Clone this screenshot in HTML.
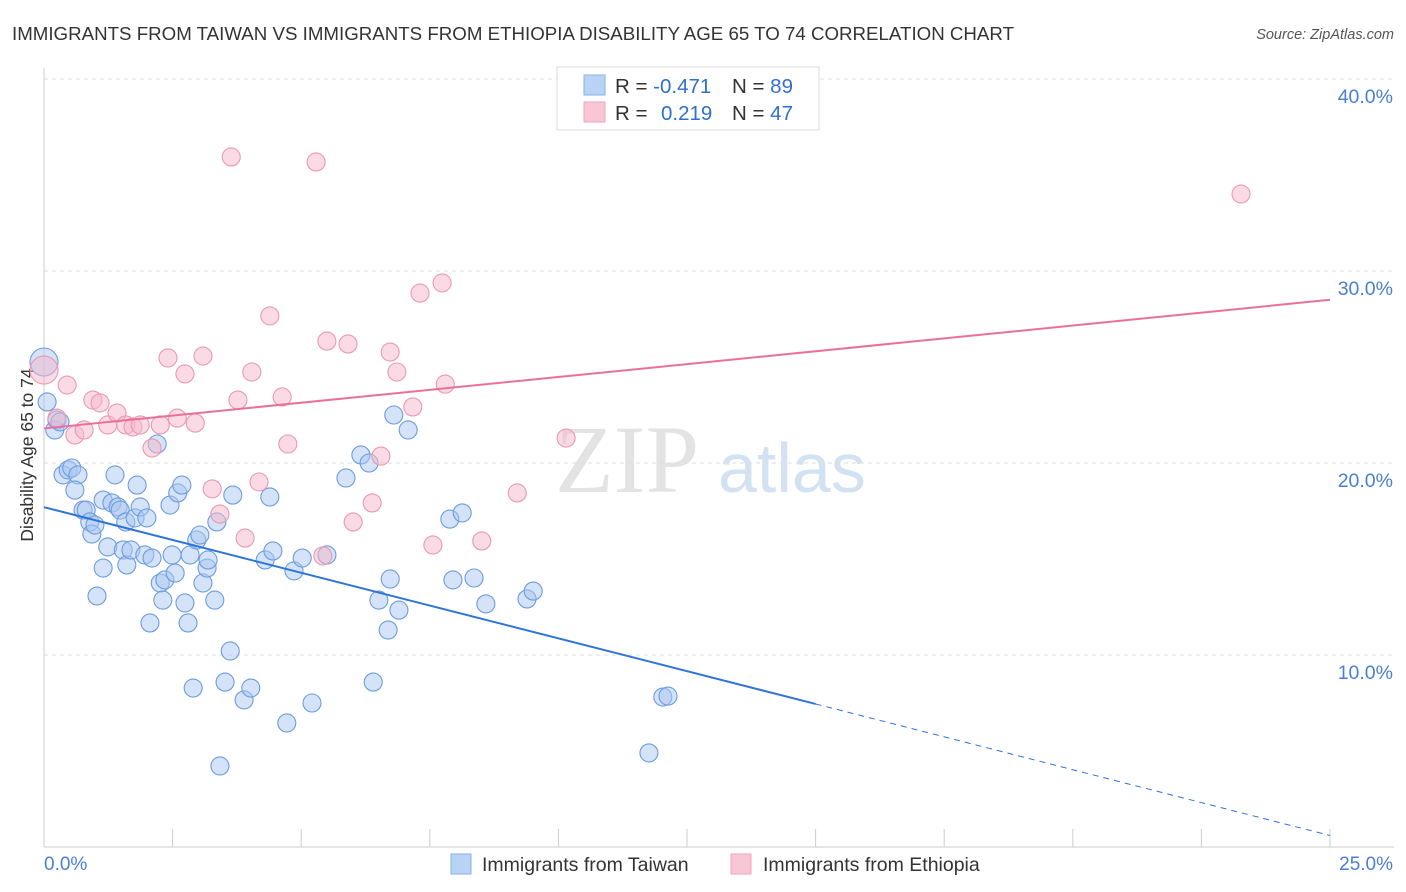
<!DOCTYPE html>
<html><head><meta charset="utf-8"><style>
body{margin:0;background:#fff;font-family:"Liberation Sans",sans-serif}
#wrap{position:relative;width:1406px;height:892px;overflow:hidden}
</style></head><body>
<div id="wrap">
<svg id="svg" width="1406" height="892" xmlns="http://www.w3.org/2000/svg">
<text x="12" y="40" font-size="18" fill="#333" textLength="1002" lengthAdjust="spacingAndGlyphs">IMMIGRANTS FROM TAIWAN VS IMMIGRANTS FROM ETHIOPIA DISABILITY AGE 65 TO 74 CORRELATION CHART</text>
<text x="1394" y="39" font-size="14.5" fill="#555" font-style="italic" text-anchor="end">Source: ZipAtlas.com</text>
<text x="33" y="455" font-size="17.5" fill="#333" text-anchor="middle" transform="rotate(-90 33 455)">Disability Age 65 to 74</text>
<g><text x="555" y="492" font-size="96" fill="#ddd" font-family="Liberation Serif,serif" opacity="0.8">ZIP</text><text x="718" y="492" font-size="70" fill="#c8dbf0" opacity="0.8">atlas</text></g>
<g id="grid"></g><g id="ticks"></g><g id="pts"></g><g id="lines"></g>
<g>
<rect x="557" y="67" width="262" height="63" fill="#fff" stroke="#ddd"/>
<rect x="584" y="75" width="21" height="20" fill="#b9d3f5" stroke="#8ab2e8"/>
<rect x="584" y="102" width="21" height="20" fill="#f9c6d5" stroke="#eea5bb"/>
<text x="615" y="93" font-size="20.5" fill="#333">R = <tspan fill="#2f6fd0">-0.471</tspan></text>
<text x="732" y="93" font-size="20.5" fill="#333">N = <tspan fill="#2f6fd0">89</tspan></text>
<text x="615" y="120" font-size="20.5" fill="#333">R = <tspan fill="#2f6fd0" x="661">0.219</tspan></text>
<text x="732" y="120" font-size="20.5" fill="#333">N = <tspan fill="#2f6fd0">47</tspan></text>
</g>
<g>
<rect x="451" y="854" width="20" height="20" fill="#b9d3f5" stroke="#8ab2e8"/>
<text x="482" y="871" font-size="19.5" fill="#333">Immigrants from Taiwan</text>
<rect x="731" y="854" width="20" height="20" fill="#f9c6d5" stroke="#eea5bb"/>
<text x="763" y="871" font-size="19.5" fill="#333">Immigrants from Ethiopia</text>
</g>
<text x="44" y="870" font-size="19" fill="#4a7fd6">0.0%</text>
<text x="1393" y="870" font-size="19" fill="#4a7fd6" text-anchor="end">25.0%</text>
</svg></div>
<script>
const yTicks=[10,20,30,40];
const yTickLabels=["10.0%","20.0%","30.0%","40.0%"];
const taiwanX=[0.00,0.06,0.21,0.25,0.31,0.37,0.47,0.54,0.66,0.60,0.76,0.82,0.89,0.93,0.99,1.03,1.15,1.15,1.24,1.32,1.38,1.44,1.48,1.54,1.59,1.61,1.69,1.77,1.81,1.87,1.96,2.00,2.10,2.06,2.20,2.26,2.31,2.35,2.45,2.49,2.55,2.60,2.68,2.74,2.80,2.84,2.90,2.97,3.03,3.09,3.17,3.19,3.32,3.36,3.42,3.52,3.62,3.67,3.89,4.02,4.30,4.39,4.45,4.72,4.86,5.02,5.21,5.50,5.87,6.16,6.32,6.40,6.51,6.69,6.73,6.80,6.90,7.08,7.89,7.95,8.13,8.36,8.59,9.39,9.51,11.76,12.03,12.13];
const taiwanY=[25.26,23.18,21.72,22.24,22.14,19.38,19.64,19.74,19.38,18.59,17.55,17.55,16.93,16.30,16.77,13.07,14.53,18.07,15.63,17.92,19.38,17.71,17.55,15.47,16.93,14.69,15.47,17.14,18.85,17.71,15.21,17.14,15.05,11.67,20.99,13.75,12.86,13.91,17.81,15.21,14.27,18.44,18.85,12.71,11.67,15.21,8.28,15.99,16.25,13.75,14.53,14.95,12.86,16.93,4.22,8.59,10.21,18.33,7.66,8.28,14.95,18.23,15.42,6.46,14.38,15.05,7.50,15.21,19.22,20.42,20.00,8.59,12.86,11.30,13.96,22.50,12.34,21.72,17.08,13.91,17.40,14.01,12.66,12.92,13.33,4.90,7.81,7.86];
const ethX=[0.00,0.25,0.45,0.60,0.78,0.95,1.09,1.24,1.42,1.59,1.73,1.87,2.10,2.26,2.41,2.59,2.74,2.94,3.09,3.27,3.42,3.64,3.77,3.91,4.04,4.18,4.39,4.63,4.74,5.29,5.42,5.50,5.91,6.01,6.38,6.55,6.73,6.86,7.17,7.31,7.56,7.74,7.80,8.51,9.20,10.15,23.27];
const ethY=[24.84,22.34,24.06,21.46,21.72,23.28,23.13,21.98,22.60,21.98,21.88,21.98,20.78,21.98,25.47,22.34,24.64,22.08,25.57,18.65,17.34,35.94,23.28,16.09,24.74,19.01,27.66,23.44,20.99,35.68,15.16,26.35,26.20,16.93,17.92,20.36,25.78,24.74,22.92,28.85,15.73,29.38,24.11,15.94,18.44,21.30,34.01];
const taiwanTrend=[[0,17.7],[15,7.45],[25,0.6]];
const ethTrend=[[0,21.8],[25,28.5]];
const X=v=>44+v*51.44, Y=v=>847-v*19.2;
const NS="http://www.w3.org/2000/svg";
function mk(t,a,p){const e=document.createElementNS(NS,t);for(const k in a)e.setAttribute(k,a[k]);p.appendChild(e);return e;}
const grid=document.getElementById('grid'),ticks=document.getElementById('ticks'),pts=document.getElementById('pts'),lines=document.getElementById('lines');
yTicks.forEach((t,i)=>{const l=mk('line',{x1:44,x2:1394,y1:Y(t),y2:Y(t),stroke:'#ddd','stroke-dasharray':'4,4'},grid);


const tx=mk('text',{x:1393,y:Y(t)+24,'font-size':19.5,fill:'#4a7fd6','text-anchor':'end'},ticks);tx.textContent=yTickLabels[i];

});
const ax=mk('line',{x1:44,x2:1394,y1:847,y2:847,stroke:'#ccc'},ticks);


const ay=mk('line',{x1:44,x2:44,y1:68,y2:847,stroke:'#ccc'},ticks);


for(let i=0;i<=10;i++){const t=mk('line',{x1:X(i*2.5),x2:X(i*2.5),y1:829,y2:847,stroke:'#ccc'},ticks);

}
function series(xs,ys,fill,stroke,name){xs.forEach((x,i)=>{const c=mk('circle',{cx:X(x),cy:Y(ys[i]),r:x===0?14:9,fill:fill,'fill-opacity':0.5,stroke:stroke,'stroke-width':1.1},pts);

});}
series(taiwanX,taiwanY,'#a9c8f0','#6c9be0','taiwan-point');
series(ethX,ethY,'#f5b8cb','#eb98b1','ethiopia-point');
const b1=mk('line',{x1:X(taiwanTrend[0][0]),y1:Y(taiwanTrend[0][1]),x2:X(taiwanTrend[1][0]),y2:Y(taiwanTrend[1][1]),stroke:'#2f74d8','stroke-width':2},lines);


const b2=mk('line',{x1:X(taiwanTrend[1][0]),y1:Y(taiwanTrend[1][1]),x2:X(taiwanTrend[2][0]),y2:Y(taiwanTrend[2][1]),stroke:'#2f74d8','stroke-width':1,'stroke-dasharray':'6,5'},lines);


const p1=mk('line',{x1:X(ethTrend[0][0]),y1:Y(ethTrend[0][1]),x2:X(ethTrend[1][0]),y2:Y(ethTrend[1][1]),stroke:'#e8709a','stroke-width':2},lines);


</script>
</body></html>
